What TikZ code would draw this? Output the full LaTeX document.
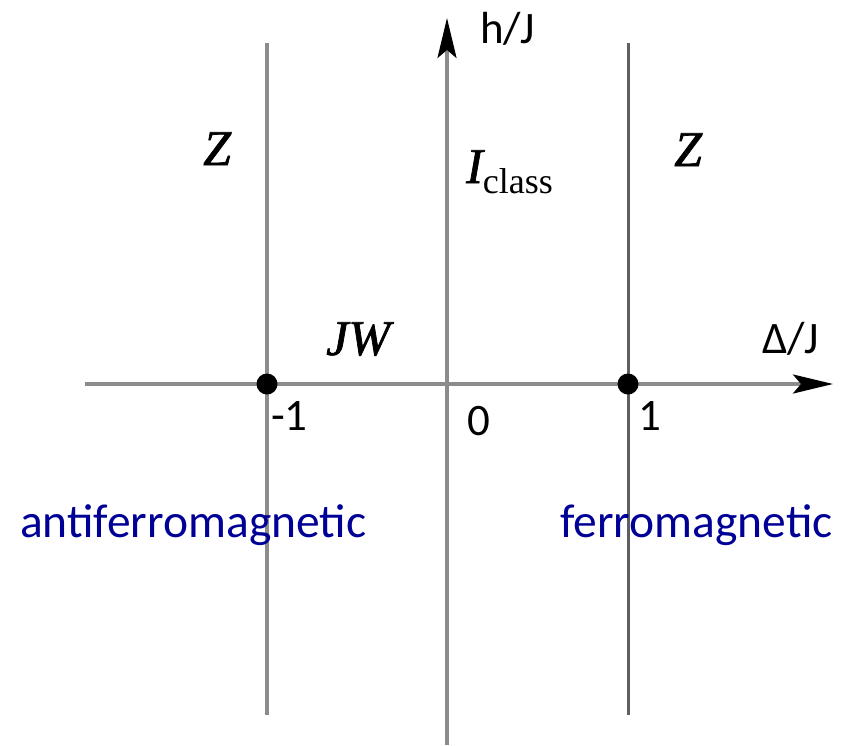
\documentclass[tikz,border=0pt]{standalone}
\usepackage{fontspec}
\setmainfont{Carlito}
\newfontfamily\timesfont{Liberation Serif}
\newfontfamily\timesheavy[FakeBold=1.4]{Liberation Serif}
\usetikzlibrary{arrows.meta}
\definecolor{navyt}{RGB}{0,0,150}
\definecolor{linegray}{RGB}{140,140,140}
\definecolor{darkline}{RGB}{95,95,95}
\tikzset{
  phaseline/.style={draw=linegray, line width=3.5pt},
  axisline/.style={draw=linegray, line width=3.2pt, -{Stealth[length=40pt,width=19pt,inset=8pt,color=black]}},
  critpt/.style={circle, fill=black, minimum size=21pt, inner sep=0pt},
  lbl/.style={inner sep=0pt, anchor=base west, font=\fontsize{45}{50}\selectfont},
  bluelbl/.style={inner sep=0pt, anchor=base west, text=navyt, font=\fontsize{47.5}{52}\selectfont},
  phase/.style={inner sep=0pt, anchor=base west, font=\timesheavy\itshape\fontsize{50}{55}\selectfont}
}
\begin{document}
\begin{tikzpicture}[x=1pt,y=-1pt]
\useasboundingbox (0,0) rectangle (844,745);
% coordinates
\coordinate (lt) at (267,43);
\coordinate (lb) at (267,715);
\coordinate (rt) at (628,43);
\coordinate (rb) at (628,715);
\coordinate (vb) at (447,745);
\coordinate (vt) at (447,18);
\coordinate (hl) at (85,384);
\coordinate (hr) at (833,384);
% phase boundaries
\draw[phaseline] (lt) -- (lb);
\draw[phaseline, draw=darkline, line width=3pt] (rt) -- (rb);
% axes
\draw[axisline] (vb) -- (vt);
\draw[axisline] (hl) -- (hr);
% critical points
\node[critpt] (pm) at (267,384) {};
\node[critpt] (pp) at (628,384) {};
% axis labels
\node[lbl] (hlab) at (480,43) {h/J};
\node[lbl] (dlab) at (762,353) {Δ/J};
\node[lbl] (m1) at (271,430) {-1};
\node[lbl] (z0) at (467,435) {0};
\node[lbl] (p1) at (638,430) {1};
% phases
\node[phase] (zl) at (203,165) {Z};
\node[phase] (zr) at (674,166) {Z};
\node[phase] (ic) at (466,183) {I\raisebox{-10pt}{\timesfont\upshape\fontsize{36}{40}\selectfont class}};
\node[phase] (jw) at (326,355) {JW};
% regimes
\node[bluelbl] (af) at (20,537) {antiferromagnetic};
\node[bluelbl] (fm) at (560,537) {ferromagnetic};
\end{tikzpicture}
\end{document}
